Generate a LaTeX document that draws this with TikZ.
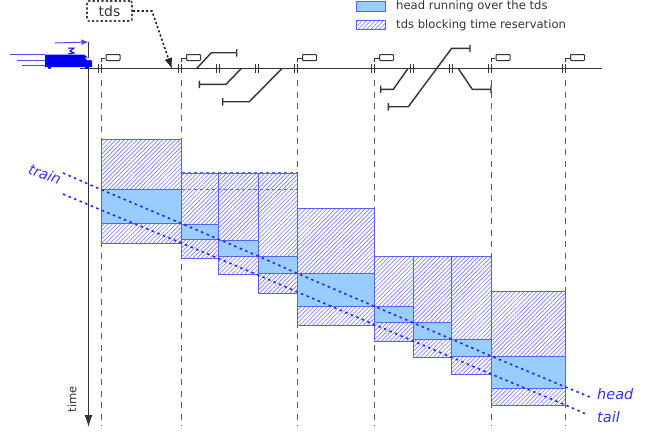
\documentclass[tikz,border=0pt]{standalone}
\usepackage{fontspec}
\setmainfont{DejaVu Sans}
\usetikzlibrary{positioning,arrows.meta,calc,patterns.meta}
\definecolor{runblue}{HTML}{99CCFF}
\definecolor{edgeblue}{HTML}{5A60F2}
\definecolor{hatchblue}{HTML}{8C8CF0}
\definecolor{trainblue}{HTML}{0000F0}
\definecolor{inkgray}{HTML}{333333}
\begin{document}
\begin{tikzpicture}[
  x=1pt, y=-1pt, font=\fontsize{11.6pt}{14pt}\selectfont, >={Latex[length=12pt,width=8pt]},
  track/.style={line width=1.4pt, inkgray},
  sect/.style={dash pattern=on 6pt off 5.5pt, line width=0.9pt, black!65},
  hatched/.style={draw=edgeblue, line width=1pt, pattern={Lines[angle=45,distance=3pt,line width=0.8pt]}, pattern color=hatchblue},
  running/.style={draw=edgeblue, line width=1pt, fill=runblue},
  key/.style={minimum width=29pt, minimum height=9.5pt, inner sep=0pt},
  keytxt/.style={anchor=west, inner sep=0pt, text=inkgray},
  trainline/.style={trainblue!85!white, line width=1.6pt, dash pattern=on 2.5pt off 3.5pt},
  trainlabel/.style={font=\fontsize{14.5pt}{16pt}\selectfont\itshape, text=trainblue!80!white, inner sep=0pt},
  dotline/.style={dash pattern=on 2.2pt off 2.2pt, line width=1.6pt},
]
\useasboundingbox (0,0) rectangle (648,434);
% ---- section limits ----
\foreach \x in {101,181.5,297.5,374.5,491,565.5}
  \draw[sect] (\x,80) -- (\x,426);
% ---- blocking time reservations ----
\foreach \xa/\xb/\ya/\yb/\yc/\yd in {
  101/181.5/139.5/189.5/223.5/243,
  181.5/218/173/224/239/258.5,
  218/258/173/240/256/274,
  258/297.5/173/256.5/273.5/293,
  297.5/374.5/208/273.5/306/325,
  374.5/413/256/306.5/322/341,
  413/451/256/322/339/357,
  451/491/256/339/356/374,
  491/565.5/291/356/388/405}{
  \draw[hatched] (\xa,\ya) rectangle (\xb,\yd);
  \draw[running] (\xa,\yb) rectangle (\xb,\yc);
}
\draw[edgeblue, line width=1.6pt, dash pattern=on 3.5pt off 2.5pt] (181.5,189.5) -- (297.5,189.5);
\draw[edgeblue, line width=1.1pt, dash pattern=on 3.5pt off 2.5pt] (181.5,173) -- (297.5,173);
% ---- train path ----
\coordinate (headA) at (63,173);
\coordinate (headB) at (590,397);
\coordinate (tailA) at (63,194);
\coordinate (tailB) at (586,414);
\draw[trainline] (headA) -- (101,189.5) -- (181.5,223.5) -- (258,256) -- (297.5,273.5) -- (491,356) -- (565.5,387) -- (headB);
\draw[trainline] (tailA) -- (101,210) -- (181.5,243) -- (258,275) -- (297.5,292) -- (491,374) -- (565.5,405) -- (tailB);
\node[trainlabel, rotate=-21] (train) at (45,174) {train};
\node[trainlabel, anchor=west] (head) at (597,394) {head};
\node[trainlabel, anchor=west] (tail) at (597,417) {tail};
% ---- time axis ----
\coordinate (timeA) at (88.5,42);
\coordinate (timeB) at (88.5,427);
\draw[->, line width=1pt, inkgray] (timeA) -- (timeB);
\node[rotate=90, text=inkgray, inner sep=0pt] (time) at (72,399) {time};
% ---- track ----
\coordinate (trackA) at (80,68.5);
\coordinate (trackB) at (602,68.5);
\draw[track] (trackA) -- (trackB);
\foreach \x in {101,181.5,297.5,374.5,491,565.5}{
  \draw[line width=1pt, inkgray] (\x-3,64) -- (\x-3,73) (\x,64) -- (\x,73);
  \draw[line width=1pt, inkgray] (\x,62) -- (\x,58) -- (\x+4,58);
  \draw[line width=1pt, inkgray, rounded corners=0.8pt] (\x+5,54.5) rectangle (\x+19,60.5);
}
\foreach \x in {218,257,412,451}
  \draw[line width=1pt, inkgray] (\x-1.5,64) -- (\x-1.5,73) (\x+1.5,64) -- (\x+1.5,73);
% ---- branches ----
\draw[track] (196.7,68.5) -- (211.3,52.7) -- (236.7,52.7) (236.7,49) -- (236.7,56.5);
\draw[track] (241.3,68.5) -- (226,84.3) -- (199.3,84.3) (199.3,80.5) -- (199.3,88);
\draw[track] (282,68.5) -- (249.3,101.7) -- (222.7,101.7) (222.7,98) -- (222.7,105.5);
\draw[track] (408,68.5) -- (393.3,89.3) -- (380.7,89.3) (380.7,85.5) -- (380.7,93);
\draw[track] (388.3,106.7) -- (408.3,106.7) -- (451.7,48.3) -- (470,48.3) (388.3,103) -- (388.3,110.5) (470,44.5) -- (470,52);
\draw[track] (458.3,68.5) -- (472.3,89.3) -- (491,89.3) (491,85.5) -- (491,93);
% ---- train ----
\draw[trainblue!70!white, line width=0.9pt] (10,54) -- (45,54) (17,60) -- (45,60) (22,65) -- (45,65);
\draw[-{Latex[length=7pt,width=6pt]}, trainblue!70!white, line width=1pt] (55,43) -- (timeA);
\fill[trainblue] (45,54.5) -- (84,54.5) -- (92,61) -- (92,67) -- (45,67) -- cycle;
\fill[trainblue] (49.5,67) circle (2pt) (87,67) circle (2pt);
\fill[white] (85,57.5) -- (88,57.5) -- (91,60) -- (87,60) -- cycle;
\draw[trainblue, line width=1pt] (68,48) -- (74,48) -- (70,51) -- (74,53) -- (68,54);
% ---- tds label ----
\node[draw=black!75, dotline, rounded corners=2pt, minimum width=45pt, minimum height=20pt, inner sep=0pt, font=\fontsize{14pt}{16pt}\selectfont, text=inkgray] (tds) at (109.5,11) {tds};
\coordinate (tdsTip) at (172,69);
\draw[-{Latex[length=11pt,width=8pt]}, dotline, black!85] (tds.east) -- (152,11) -- (tdsTip);
% ---- legend ----
\node[key, running] (keyrun) at (370.5,6.7) {};
\node[key, hatched, below=8pt of keyrun] (keyhatch) {};
\node[keytxt, right=10.5pt of keyrun] (txtrun) {head running over the tds};
\node[keytxt, right=10.5pt of keyhatch] (txthatch) {tds blocking time reservation};
\end{tikzpicture}
\end{document}
